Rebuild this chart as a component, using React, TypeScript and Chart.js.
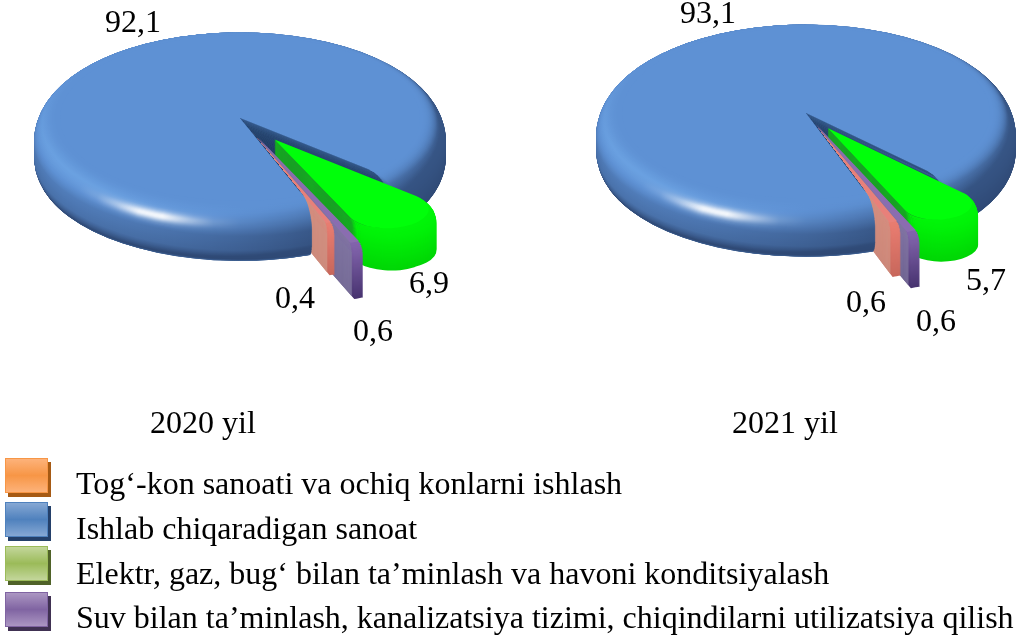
import React, { useEffect, useRef } from "react";
import { Chart, registerables } from "chart.js";

Chart.register(...registerables);

const sectors = ["Tog‘-kon sanoati va ochiq konlarni ishlash", "Ishlab chiqaradigan sanoat", "Elektr, gaz, bug‘ bilan ta’minlash va havoni konditsiyalash", "Suv bilan ta’minlash, kanalizatsiya tizimi, chiqindilarni utilizatsiya qilish"];
const values2020 = [0.4, 92.1, 6.9, 0.6];
const values2021 = [0.6, 93.1, 5.7, 0.6];
const yearLabels = ["2020 yil", "2021 yil"];

const sliceColors = ["#e8807a", "#5e91d4", "#00ff0a", "#8a6db0"];
const wallColors = ["#cf9384", "#1e3a60", "#1f8f2c", "#8078a0"];
const rimTop = [[232, 124, 112], [94, 145, 212], [0, 246, 8], [130, 100, 172]];
const rimBottom = [[200, 104, 92], [94, 145, 212], [0, 214, 6], [72, 52, 112]];
const swatches = [
  ["#f79646", "#fdb27a", "#a65a14"],
  ["#4f81bd", "#86a8d4", "#24406a"],
  ["#9bbb59", "#c3d69b", "#4f6228"],
  ["#8064a2", "#ab96c2", "#403152"],
];

const FONT = '"Liberation Serif"';
const layout2020 = {
  cx: 240, cy: 118, k: 0.46, depth: 52, radius: 206, rotation: 158,
  offsets: [32, 0, 58, 45],
  extents: [222, 206, 240, 258],
  depths: [48, 52, 38, 52],
  corner: [0, 0, 40, 0],
  labels: [[295, 308], [133, 32], [429, 293], [373, 341]],
  year: [203, 433],
};
const layout2021 = {
  cx: 806, cy: 113, k: 0.465, depth: 50, radius: 210, rotation: 158.5,
  offsets: [30, 0, 39, 25],
  extents: [230, 210, 240, 260],
  depths: [50, 50, 38, 52],
  corner: [0, 0, 40, 0],
  labels: [[866, 312], [708, 23], [986, 290], [936, 331]],
  year: [785, 433],
};

type Layout = typeof layout2020;

const norm = (v: number[]) => { const m = Math.hypot(v[0], v[1], v[2]); return v.map((c) => c / m); };
const LIGHT = norm([-0.6, 0.35, 0.72]);
const SPEC = norm([-0.387, 0.794, 0.469]);
const FACE = [94, 145, 212];
const DARK = [30, 48, 84];
const mix = (a: number[], b: number[], t: number) => a.map((c, i) => c + (b[i] - c) * t);
const rgb = (c: number[]) => `rgb(${c.map((v) => Math.round(v)).join(",")})`;

function profileLayers(H: number, R: number) {
  const b = 26, s = 24, e = 14, c = 10;
  const out: { i: number; r: number; nr: number; nz: number }[] = [];
  for (let i = H; i > H - e; i--) {
    const v = (i - (H - e)) / e, q = Math.sqrt(1 - v * v);
    out.push({ i, r: R - c * (1 - q), nr: q, nz: -v });
  }
  for (let i = H - e; i > s; i--) out.push({ i, r: R, nr: 1, nz: 0 });
  for (let p = 40; p >= 1; p--) {
    const f = (p / 40) * Math.PI / 2;
    out.push({ i: s * (1 - Math.cos(f)), r: R - b + b * Math.sin(f), nr: Math.sin(f), nz: Math.cos(f) });
  }
  return out;
}

function shadeBlue(a: number, nr: number, nz: number, t: number) {
  const n = [Math.cos(a) * nr, Math.sin(a) * nr, nz];
  const lam = n[0] * LIGHT[0] + n[1] * LIGHT[1] + n[2] * LIGHT[2];
  const lit = 0.42 + 0.58 * Math.max(0, lam / LIGHT[2]);
  const w = Math.min(1, nr / 0.7);
  const rel = (1 + (lit - 1) * w * w) * (1 - 0.42 * t);
  let col = rel < 1 ? mix(FACE, DARK, Math.min(1, 1 - rel)) : mix(FACE, [125, 185, 245], Math.min(1, (rel - 1) * 2.5));
  const sp = Math.pow(Math.max(0, n[0] * SPEC[0] + n[1] * SPEC[1] + n[2] * SPEC[2]), 50);
  col = mix(col, [255, 255, 255], sp);
  return rgb(col);
}

function paintArc(ctx: CanvasRenderingContext2D, el: any, bg: any, extent: number, corner: number, shift: number) {
  const saved = el.options, savedR = el.outerRadius;
  const mid = (el.startAngle + el.endAngle) / 2;
  el.options = {
    ...saved, backgroundColor: bg, borderWidth: 0, offset: 0, spacing: 0,
    borderRadius: corner ? { outerStart: corner, outerEnd: corner, innerStart: 0, innerEnd: 0 } : 0,
  };
  el.outerRadius = Math.max(1, extent);
  ctx.save();
  ctx.translate(Math.cos(mid) * shift, Math.sin(mid) * shift);
  el.draw(ctx);
  ctx.restore();
  el.options = saved;
  el.outerRadius = savedR;
}

function pie3d(cfg: Layout, values: number[], year: string) {
  const place = (ctx: CanvasRenderingContext2D, el: any, i: number) => {
    ctx.setTransform(1, 0, 0, 1, 0, 0);
    ctx.translate(cfg.cx, cfg.cy + i);
    ctx.scale(1, cfg.k);
    ctx.translate(-el.x, -el.y);
  };
  const blueStack = (ctx: CanvasRenderingContext2D, el: any) => {
    for (const p of profileLayers(cfg.depth, cfg.radius)) {
      place(ctx, el, p.i);
      const grad = ctx.createConicGradient(0, el.x, el.y);
      for (let s = 0; s <= 48; s++) {
        const a = (s / 48) * Math.PI * 2;
        grad.addColorStop(s / 48, shadeBlue(a, p.nr, p.nz, p.i / cfg.depth));
      }
      paintArc(ctx, el, grad, p.r, 0, 0);
      paintArc(ctx, el, wallColors[1], Math.max(1, p.r - 10), 0, 0);
    }
    place(ctx, el, 0);
    paintArc(ctx, el, sliceColors[1], cfg.radius - 26, 0, 0);
  };
  const sliceStack = (ctx: CanvasRenderingContext2D, el: any, idx: number) => {
    const extent = cfg.extents[idx], corner = cfg.corner[idx], H = cfg.depths[idx], shift = cfg.offsets[idx];
    for (let i = H; i >= 1; i--) {
      place(ctx, el, i);
      const u = Math.min(1, i / 10), sh = 10 * (1 - Math.sqrt(1 - (1 - u) * (1 - u)));
      paintArc(ctx, el, rgb(mix(rimTop[idx], rimBottom[idx], i / H)), extent - sh, corner, shift);
      paintArc(ctx, el, wallColors[idx], Math.max(1, extent - sh - 8), corner, shift);
    }
    place(ctx, el, 0);
    paintArc(ctx, el, sliceColors[idx], extent - 10, corner, shift);
  };
  return {
    id: "pie3d",
    beforeDatasetDraw(chart: any) {
      const ctx: CanvasRenderingContext2D = chart.ctx;
      const els = chart.getDatasetMeta(0).data;
      const blue = els[1];
      ctx.save();
      blueStack(ctx, blue);
      sliceStack(ctx, els[2], 2);
      sliceStack(ctx, els[3], 3);
      sliceStack(ctx, els[0], 0);
      ctx.save();
      place(ctx, blue, 0);
      const A = blue.startAngle, big = 3000;
      ctx.beginPath();
      ctx.moveTo(blue.x, blue.y);
      ctx.lineTo(blue.x + Math.cos(A) * big, blue.y + Math.sin(A) * big);
      ctx.lineTo(blue.x - big, blue.y + big);
      ctx.lineTo(blue.x - big, blue.y - big);
      ctx.lineTo(blue.x, blue.y - big);
      ctx.closePath();
      ctx.clip();
      blueStack(ctx, blue);
      ctx.restore();
      ctx.restore();
      return false;
    },
    afterDraw(chart: any) {
      const ctx: CanvasRenderingContext2D = chart.ctx;
      ctx.save();
      ctx.setTransform(1, 0, 0, 1, 0, 0);
      ctx.fillStyle = "#000";
      ctx.textBaseline = "alphabetic";
      ctx.textAlign = "center";
      ctx.font = `32px ${FONT}`;
      values.forEach((v, i) => {
        const [x, y] = cfg.labels[i];
        ctx.fillText(v.toFixed(1).replace(".", ","), x, y);
      });
      ctx.fillText(year, cfg.year[0], cfg.year[1]);
      ctx.restore();
    },
  };
}

function makeChart(canvas: HTMLCanvasElement, cfg: Layout, values: number[], year: string) {
  return new Chart(canvas, {
    type: "pie",
    data: {
      labels: sectors,
      datasets: [{ data: values, backgroundColor: sliceColors, borderWidth: 0, hoverOffset: 0 }],
    },
    options: {
      animation: false,
      responsive: false,
      events: [],
      radius: cfg.radius,
      rotation: cfg.rotation,
      plugins: { legend: { display: false }, tooltip: { enabled: false } },
    } as any,
    plugins: [pie3d(cfg, values, year) as any],
  });
}

export default function App() {
  const a = useRef<HTMLCanvasElement>(null);
  const b = useRef<HTMLCanvasElement>(null);
  useEffect(() => {
    const c1 = makeChart(a.current!, layout2020, values2020, yearLabels[0]);
    const c2 = makeChart(b.current!, layout2021, values2021, yearLabels[1]);
    return () => { c1.destroy(); c2.destroy(); };
  }, []);
  const canvasStyle: React.CSSProperties = { position: "absolute", left: 0, top: 0 };
  const swatchTop = [458, 502, 546, 592];
  const textTop = [467, 512, 557, 601];
  return (
    <div style={{ position: "absolute", left: 0, top: 0, width: 1016, height: 637, overflow: "hidden", background: "#fff" }}>
      <canvas ref={a} width={1016} height={637} style={canvasStyle} />
      <canvas ref={b} width={1016} height={637} style={canvasStyle} />
      {sectors.map((s, i) => (
        <React.Fragment key={s}>
          <div style={{
            position: "absolute", left: 5, top: swatchTop[i], width: 43, height: 35,
            background: `linear-gradient(${swatches[i][1]}, ${swatches[i][0]} 50%, ${swatches[i][1]})`,
            border: `1px solid ${swatches[i][0]}`, boxSizing: "border-box",
            boxShadow: `3px 4px 0 ${swatches[i][2]}`,
          }} />
          <div style={{
            position: "absolute", left: 76, top: textTop[i], fontFamily: FONT, fontSize: 32, lineHeight: "32px",
            color: "#000", whiteSpace: "nowrap",
          }}>{s}</div>
        </React.Fragment>
      ))}
    </div>
  );
}
